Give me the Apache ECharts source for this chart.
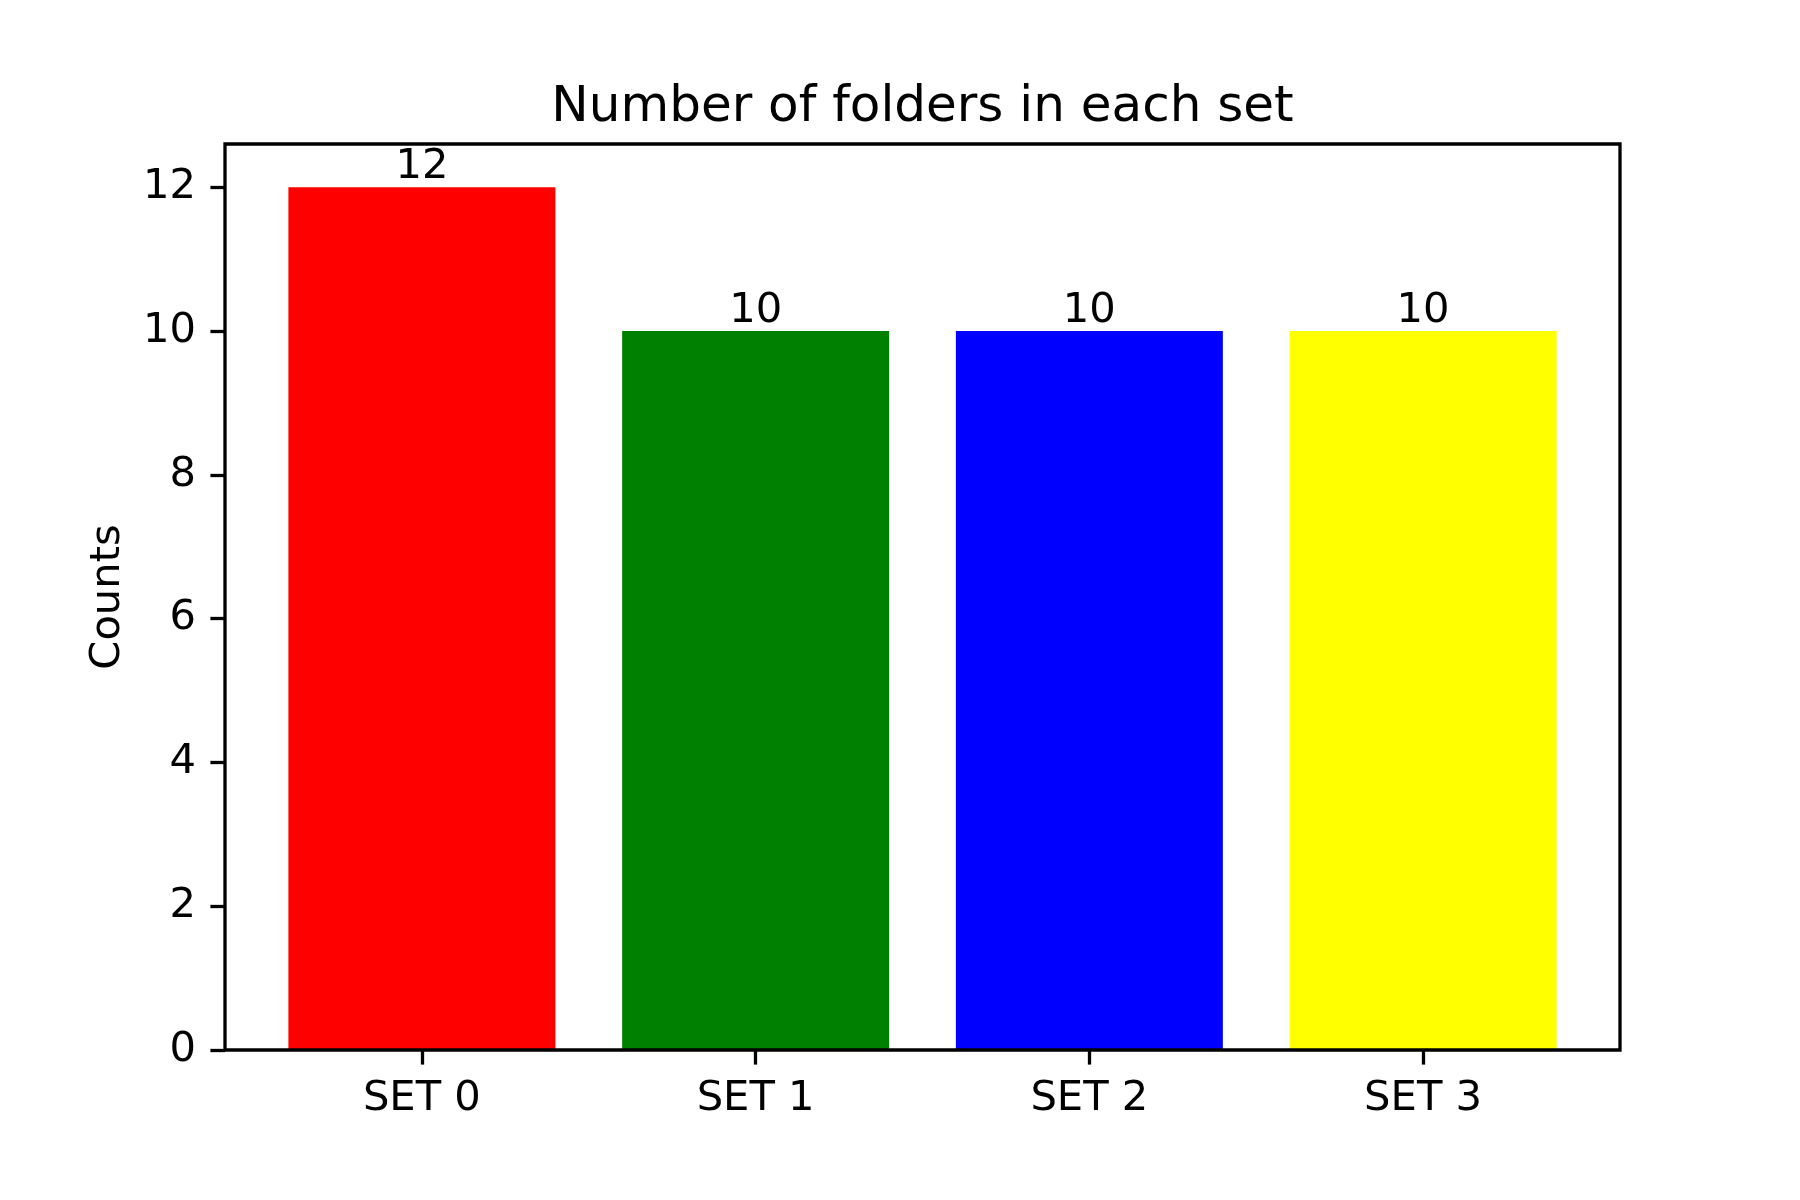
<!DOCTYPE html>
<html>
<head>
<meta charset="utf-8">
<script src="https://cdn.jsdelivr.net/npm/echarts@6/dist/echarts.min.js"></script>
<style>
  html, body { margin: 0; padding: 0; background: #fff; }
  #chart { width: 1800px; height: 1200px; }
</style>
</head>
<body>
<div id="chart"></div>
<script>
const categories = ['SET 0', 'SET 1', 'SET 2', 'SET 3'];
const counts = [12, 10, 10, 10];
const barColors = ['#ff0000', '#008000', '#0000ff', '#ffff00'];
const yTicks = [0, 2, 4, 6, 8, 10, 12];
const titleText = 'Number of folders in each set';
const yLabel = 'Counts';

// Layout (matplotlib-like axes box)
const W = 1800, H = 1200;
const axL = 225, axR = 1620, axT = 144, axB = 1050;
const xMin = -0.59, xMax = 3.59;          // matplotlib auto limits with 5% margin
const yMax = 12.6;
const xUnit = (axR - axL) / (xMax - xMin);
const yUnit = (axB - axT) / yMax;
const g1Left = axL + (-0.5 - xMin) * xUnit;
const g1Right = W - (axL + (categories.length - 0.5 - xMin) * xUnit);
const g1Top = axB - yTicks[yTicks.length - 1] * yUnit;
const FS = 41.67;
const FONT = 'DejaVu Sans';

const chart = echarts.init(document.getElementById('chart'), null, { renderer: 'canvas' });
chart.setOption({
  backgroundColor: '#ffffff',
  animation: false,
  title: {
    text: titleText,
    left: (axL + axR) / 2 - 5,
    textAlign: 'center',
    top: 78,
    textStyle: { fontFamily: FONT, fontSize: 50, fontWeight: 'normal', color: '#000' }
  },
  grid: [
    { left: axL, right: W - axR, top: axT, bottom: H - axB, show: true,
      borderColor: '#000', borderWidth: 3.3, backgroundColor: 'transparent', z: 5 },
    { left: g1Left, right: g1Right, top: g1Top, bottom: H - axB }
  ],
  xAxis: [
    { gridIndex: 0, type: 'value', min: 0, max: 1, show: false },
    { gridIndex: 1, type: 'category', data: categories,
      axisLine: { show: false },
      axisTick: { show: true, alignWithLabel: true, length: 14.6, lineStyle: { color: '#000', width: 3.3 } },
      axisLabel: { color: '#000', fontFamily: FONT, fontSize: FS, margin: 28 },
      splitLine: { show: false } }
  ],
  yAxis: [
    { gridIndex: 0, type: 'value', min: 0, max: 1,
      axisLine: { show: false }, axisTick: { show: false }, axisLabel: { show: false },
      splitLine: { show: false },
      name: yLabel, nameLocation: 'middle', nameGap: 96,
      nameTextStyle: { color: '#000', fontFamily: FONT, fontSize: FS } },
    { gridIndex: 1, type: 'value', min: 0, max: yTicks[yTicks.length - 1], interval: yTicks[1] - yTicks[0],
      offset: g1Left - axL,
      axisLine: { show: false },
      axisTick: { show: true, length: 14.6, lineStyle: { color: '#000', width: 3.3 } },
      axisLabel: { color: '#000', fontFamily: FONT, fontSize: FS, margin: 29 },
      splitLine: { show: false } }
  ],
  series: [{
    type: 'bar',
    xAxisIndex: 1, yAxisIndex: 1,
    barWidth: '80%',
    data: counts.map((v, i) => ({ value: v, itemStyle: { color: barColors[i] } })),
    label: { show: true, position: 'top', distance: -1, color: '#000', fontFamily: FONT, fontSize: FS }
  }]
});
</script>
</body>
</html>
